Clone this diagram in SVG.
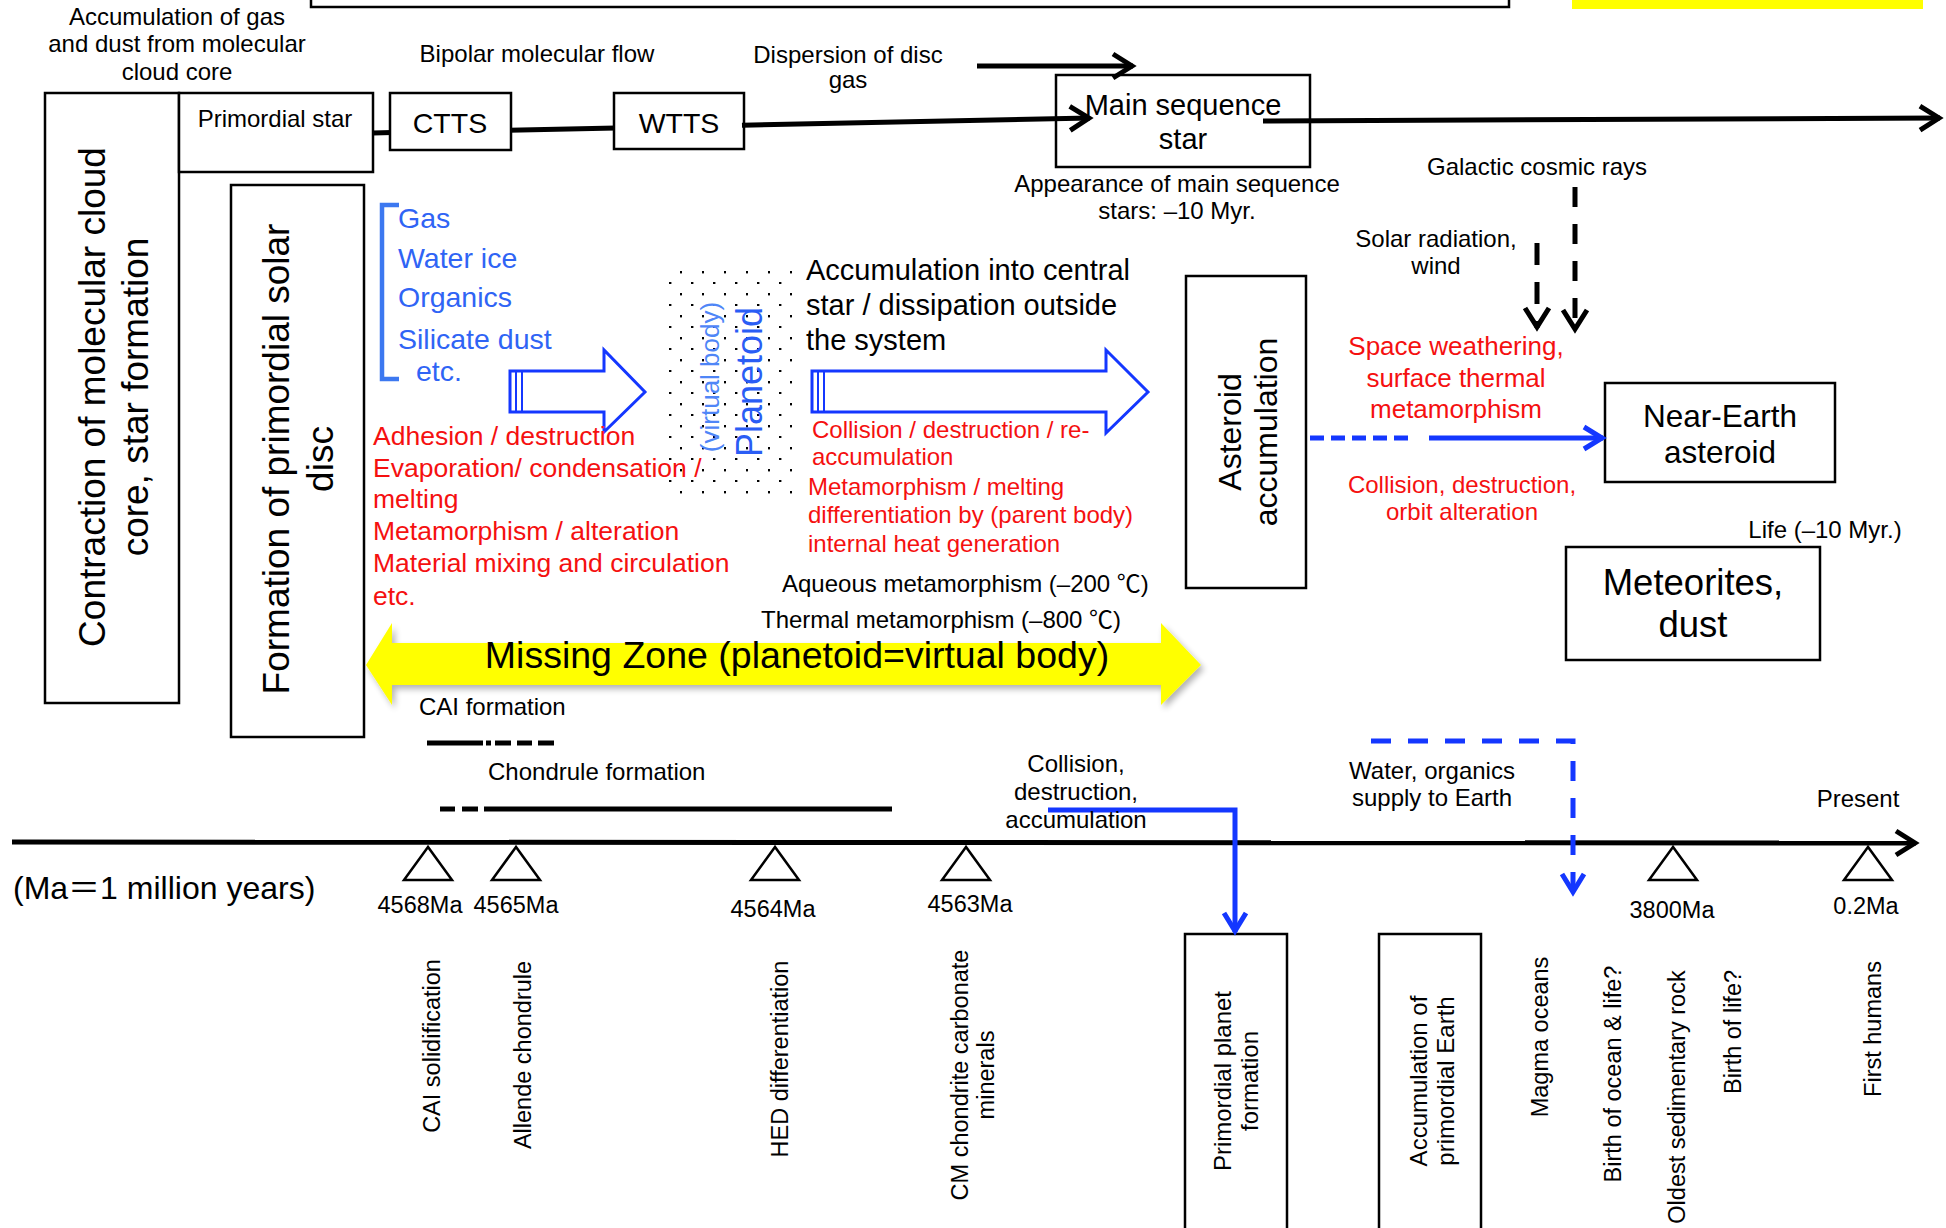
<svg xmlns="http://www.w3.org/2000/svg" width="1946" height="1228" viewBox="0 0 1946 1228">
<style>
text{font-family:"Liberation Sans",Arial,"Noto Sans CJK JP",sans-serif;fill:#000;font-size:24px}
.m{text-anchor:middle}
.r{fill:#f51010}
.b{fill:#2f64f5}
.box{fill:#fff;stroke:#000;stroke-width:2.5}
.ln{stroke:#000;stroke-width:5;fill:none}
.bl{stroke:#1437ff;stroke-width:5;fill:none}
.tri{fill:#fff;stroke:#000;stroke-width:2.5;stroke-linejoin:miter}
.ha{fill:#fff;stroke:#1437ff;stroke-width:3}
</style>
<defs>
<marker id="ah" markerUnits="userSpaceOnUse" viewBox="-30 -20 40 40" markerWidth="40" markerHeight="40" refX="0" refY="0" orient="auto" overflow="visible">
<path d="M-20,-12 L-1,0 L-20,12" fill="none" stroke="#000" stroke-width="5" stroke-dasharray="none"/>
</marker>
<marker id="ahb" markerUnits="userSpaceOnUse" viewBox="-30 -20 40 40" markerWidth="40" markerHeight="40" refX="0" refY="0" orient="auto" overflow="visible">
<path d="M-19,-11 L-1,0 L-19,11" fill="none" stroke="#1437ff" stroke-width="5" stroke-dasharray="none"/>
</marker>
<pattern id="dots" x="660" y="262" width="22" height="22" patternUnits="userSpaceOnUse">
<rect x="20" y="9" width="2.4" height="2.4" fill="#000"/>
<rect x="9" y="20" width="2.4" height="2.4" fill="#000"/>
</pattern>
<filter id="sh" x="-5%" y="-30%" width="110%" height="160%">
<feGaussianBlur in="SourceAlpha" stdDeviation="3"/>
<feOffset dx="3" dy="4" result="o"/>
<feComponentTransfer><feFuncA type="linear" slope="0.3"/></feComponentTransfer>
<feMerge><feMergeNode/><feMergeNode in="SourceGraphic"/></feMerge>
</filter>
</defs>
<rect width="1946" height="1228" fill="#fff"/>

<!-- top partial box and yellow band -->
<rect x="311" y="-20" width="1198" height="27" fill="none" stroke="#000" stroke-width="2.5"/>
<rect x="1572" y="-2" width="351" height="11" fill="#ffff00"/>

<!-- connectors drawn behind boxes -->
<g id="connectors-back">
<line class="ln" x1="373" y1="133" x2="392" y2="132.6"/>
<line class="ln" x1="509" y1="130.2" x2="616" y2="127.9"/>
</g>

<g id="contraction">
<rect class="box" x="45" y="93" width="134" height="610"/>
<text class="m" style="font-size:37px" transform="translate(105,397) rotate(-90)">Contraction of molecular cloud</text>
<text class="m" style="font-size:37px" transform="translate(148,397) rotate(-90)">core, star formation</text>
</g>
<g id="primordial-star">
<rect class="box" x="179" y="93" width="194" height="79"/>
<text class="m" x="275" y="127">Primordial star</text>
</g>
<g id="formation-disc">
<rect class="box" x="231" y="185" width="133" height="552"/>
<text class="m" style="font-size:37px" transform="translate(289,459) rotate(-90)">Formation of primordial solar</text>
<text class="m" style="font-size:37px" transform="translate(333,459) rotate(-90)">disc</text>
</g>
<g id="ctts">
<rect class="box" x="390" y="93" width="121" height="57"/>
<text class="m" x="450" y="133" style="font-size:28.5px">CTTS</text>
</g>
<g id="wtts">
<rect class="box" x="614" y="93" width="130" height="56"/>
<text class="m" x="679" y="133" style="font-size:28.5px">WTTS</text>
</g>
<g id="main-sequence">
<rect class="box" x="1056" y="75" width="254" height="92"/>
<text class="m" x="1183" y="115" style="font-size:29px">Main sequence</text>
<text class="m" x="1183" y="149" style="font-size:29px">star</text>
</g>
<g id="asteroid-accumulation">
<rect class="box" x="1186" y="276" width="120" height="312"/>
<text class="m" style="font-size:32px" transform="translate(1241,432) rotate(-90)">Asteroid</text>
<text class="m" style="font-size:32px" transform="translate(1277,432) rotate(-90)">accumulation</text>
</g>
<g id="near-earth">
<rect class="box" x="1605" y="383" width="230" height="99"/>
<text class="m" x="1720" y="427" style="font-size:31.5px">Near-Earth</text>
<text class="m" x="1720" y="463" style="font-size:31.5px">asteroid</text>
</g>
<g id="meteorites">
<rect class="box" x="1566" y="547" width="254" height="113"/>
<text class="m" x="1693" y="595" style="font-size:36.5px">Meteorites,</text>
<text class="m" x="1693" y="637" style="font-size:36.5px">dust</text>
</g>
<g id="primordial-planet">
<rect class="box" x="1185" y="934" width="102" height="310"/>
<text class="m" transform="translate(1231,1081) rotate(-90)">Primordial planet</text>
<text class="m" transform="translate(1258,1081) rotate(-90)">formation</text>
</g>
<g id="accumulation-earth">
<rect class="box" x="1379" y="934" width="102" height="310"/>
<text class="m" transform="translate(1427,1081) rotate(-90)">Accumulation of</text>
<text class="m" transform="translate(1454,1081) rotate(-90)">primordial Earth</text>
</g>

<!-- planetoid dotted body -->
<g id="planetoid">
<rect x="668" y="270" width="127" height="226" fill="url(#dots)"/>
<text class="m" style="font-size:26px;fill:#4f86f7" transform="translate(719,377) rotate(-90)">(virtual body)</text>
<text class="m" style="font-size:36px;fill:#2a5df5" transform="translate(762,382) rotate(-90)">Planetoid</text>
</g>

<!-- hollow blue arrows -->
<g id="hollow-arrows">
<polygon class="ha" points="510,371 604,371 604,350 645,392 604,432 604,412 510,412"/>
<line x1="516" y1="371" x2="516" y2="412" stroke="#1437ff" stroke-width="2"/>
<line x1="522" y1="371" x2="522" y2="412" stroke="#1437ff" stroke-width="2"/>
<polygon class="ha" points="812,371 1106,371 1106,350 1148,392 1106,433 1106,412 812,412"/>
<line x1="818" y1="371" x2="818" y2="412" stroke="#1437ff" stroke-width="2"/>
<line x1="824" y1="371" x2="824" y2="412" stroke="#1437ff" stroke-width="2"/>
</g>

<!-- yellow missing zone arrow -->
<g id="missing-zone">
<polygon filter="url(#sh)" fill="#ffff00" points="366,665 392,623 392,643 1161,643 1161,623 1201,665 1161,705 1161,685 392,685 392,705"/>
<text class="m" x="797" y="668" style="font-size:37.5px">Missing Zone (planetoid=virtual body)</text>
</g>

<!-- connectors -->
<g id="connectors">
<line class="ln" x1="742" y1="125.2" x2="1090" y2="118" marker-end="url(#ah)"/>
<line class="ln" x1="977" y1="66" x2="1133" y2="66" marker-end="url(#ah)"/>
<line class="ln" x1="1263" y1="121" x2="1940" y2="118" marker-end="url(#ah)"/>
<line class="ln" x1="1575" y1="187" x2="1575" y2="330" stroke-dasharray="20 17" marker-end="url(#ah)"/>
<line class="ln" x1="1537" y1="243" x2="1537" y2="328" stroke-dasharray="22 17" marker-end="url(#ah)"/>
<line class="bl" x1="1310" y1="438" x2="1412" y2="438" stroke-dasharray="14 7"/>
<line class="bl" x1="1429" y1="438" x2="1603" y2="438" marker-end="url(#ahb)"/>
<!-- timeline -->
<line class="ln" x1="12" y1="842" x2="1916" y2="843" stroke-width="5.5" marker-end="url(#ah)"/>
<path class="bl" d="M1048,810 L1235,810 L1235,932" marker-end="url(#ahb)"/>
<path class="bl" d="M1371,741 L1573,741 L1573,893" stroke-dasharray="20 17" marker-end="url(#ahb)"/>
<!-- CAI formation period -->
<line class="ln" x1="427" y1="743" x2="483" y2="743"/>
<line class="ln" x1="486" y1="743" x2="491" y2="743"/>
<line class="ln" x1="495" y1="743" x2="511" y2="743"/>
<line class="ln" x1="517" y1="743" x2="532" y2="743"/>
<line class="ln" x1="538" y1="743" x2="554" y2="743"/>
<!-- chondrule formation period -->
<line class="ln" x1="440" y1="809" x2="455" y2="809"/>
<line class="ln" x1="462" y1="809" x2="478" y2="809"/>
<line class="ln" x1="484" y1="809" x2="892" y2="809"/>
</g>

<!-- blue bracket and list -->
<g id="materials">
<path d="M399,205 L382,205 L382,379 L399,379" fill="none" stroke="#3c78f0" stroke-width="4.5"/>
<text class="b" x="398" y="228" style="font-size:28.5px">Gas</text>
<text class="b" x="398" y="268" style="font-size:28.5px">Water ice</text>
<text class="b" x="398" y="307" style="font-size:28.5px">Organics</text>
<text class="b" x="398" y="349" style="font-size:28.5px">Silicate dust</text>
<text class="b" x="416" y="381" style="font-size:28.5px">etc.</text>
</g>

<!-- free texts -->
<g id="labels">
<text class="m" x="177" y="25">Accumulation of gas</text>
<text class="m" x="177" y="52">and dust from molecular</text>
<text class="m" x="177" y="80">cloud core</text>
<text class="m" x="537" y="62">Bipolar molecular flow</text>
<text class="m" x="848" y="63">Dispersion of disc</text>
<text class="m" x="848" y="88">gas</text>
<text class="m" x="1177" y="192">Appearance of main sequence</text>
<text class="m" x="1177" y="219">stars: –10 Myr.</text>
<text class="m" x="1537" y="175">Galactic cosmic rays</text>
<text class="m" x="1436" y="247">Solar radiation,</text>
<text class="m" x="1436" y="274">wind</text>
<text class="m r" x="1456" y="355" style="font-size:26px">Space weathering,</text>
<text class="m r" x="1456" y="387" style="font-size:26px">surface thermal</text>
<text class="m r" x="1456" y="418" style="font-size:26px">metamorphism</text>
<text class="m r" x="1462" y="493">Collision, destruction,</text>
<text class="m r" x="1462" y="520">orbit alteration</text>
<text class="m" x="1825" y="538">Life (–10 Myr.)</text>

<text x="806" y="280" style="font-size:29px">Accumulation into central</text>
<text x="806" y="315" style="font-size:29px">star / dissipation outside</text>
<text x="806" y="350" style="font-size:29px">the system</text>

<text class="r" x="373" y="445" style="font-size:26.5px">Adhesion / destruction</text>
<text class="r" x="373" y="477" style="font-size:26.5px">Evaporation/ condensation /</text>
<text class="r" x="373" y="508" style="font-size:26.5px">melting</text>
<text class="r" x="373" y="540" style="font-size:26.5px">Metamorphism / alteration</text>
<text class="r" x="373" y="572" style="font-size:26.5px">Material mixing and circulation</text>
<text class="r" x="373" y="605" style="font-size:26.5px">etc.</text>

<text class="r" x="812" y="438">Collision / destruction / re-</text>
<text class="r" x="812" y="465">accumulation</text>
<text class="r" x="808" y="495">Metamorphism / melting</text>
<text class="r" x="808" y="523">differentiation by (parent body)</text>
<text class="r" x="808" y="552">internal heat generation</text>

<text x="782" y="592" style="font-size:24px">Aqueous metamorphism (–200 ℃)</text>
<text x="761" y="628" style="font-size:24px">Thermal metamorphism (–800 ℃)</text>

<text x="419" y="715">CAI formation</text>
<text x="488" y="780">Chondrule formation</text>
<text class="m" x="1076" y="772">Collision,</text>
<text class="m" x="1076" y="800">destruction,</text>
<text class="m" x="1076" y="828">accumulation</text>
<text class="m" x="1432" y="779">Water, organics</text>
<text class="m" x="1432" y="806">supply to Earth</text>
<text class="m" x="1858" y="807">Present</text>
<text x="13" y="899" style="font-size:32px">(Ma＝1 million years)</text>
</g>

<!-- timeline markers -->
<g id="epochs">
<polygon class="tri" points="428,847 404,880 452,880"/>
<polygon class="tri" points="516,847 492,880 540,880"/>
<polygon class="tri" points="775,847 751,880 799,880"/>
<polygon class="tri" points="966,847 942,880 990,880"/>
<polygon class="tri" points="1673,847 1649,880 1697,880"/>
<polygon class="tri" points="1868,847 1844,880 1892,880"/>
<text class="m" x="420" y="913" style="font-size:23.5px">4568Ma</text>
<text class="m" x="516" y="913" style="font-size:23.5px">4565Ma</text>
<text class="m" x="773" y="917" style="font-size:23.5px">4564Ma</text>
<text class="m" x="970" y="912" style="font-size:23.5px">4563Ma</text>
<text class="m" x="1672" y="918" style="font-size:23.5px">3800Ma</text>
<text class="m" x="1866" y="914" style="font-size:23.5px">0.2Ma</text>
</g>

<g id="events">
<text class="m" style="font-size:23.5px" transform="translate(440,1046) rotate(-90)">CAI solidification</text>
<text class="m" style="font-size:23.5px" transform="translate(531,1055) rotate(-90)">Allende chondrule</text>
<text class="m" style="font-size:23.5px" transform="translate(788,1059) rotate(-90)">HED differentiation</text>
<text class="m" style="font-size:23.5px" transform="translate(968,1075) rotate(-90)">CM chondrite carbonate</text>
<text class="m" style="font-size:23.5px" transform="translate(994,1075) rotate(-90)">minerals</text>
<text class="m" style="font-size:23.5px" transform="translate(1548,1037) rotate(-90)">Magma oceans</text>
<text class="m" style="font-size:23.5px" transform="translate(1621,1074) rotate(-90)">Birth of ocean &amp; life?</text>
<text class="m" style="font-size:23.5px" transform="translate(1685,1097) rotate(-90)">Oldest sedimentary rock</text>
<text class="m" style="font-size:23.5px" transform="translate(1741,1032) rotate(-90)">Birth of life?</text>
<text class="m" style="font-size:23.5px" transform="translate(1881,1029) rotate(-90)">First humans</text>
</g>
</svg>
